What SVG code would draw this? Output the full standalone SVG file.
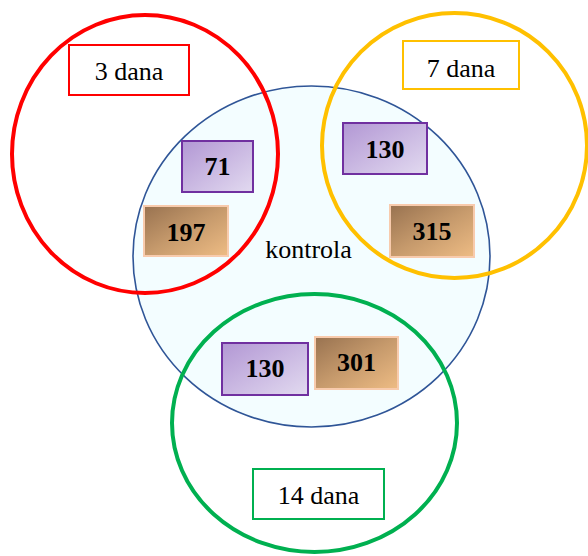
<svg xmlns="http://www.w3.org/2000/svg" width="588" height="556" viewBox="0 0 588 556">
<defs>
<linearGradient id="gp" x1="0" y1="0" x2="1" y2="1">
<stop offset="0" stop-color="#B297D4"/>
<stop offset="1" stop-color="#E2DAF0"/>
</linearGradient>
<linearGradient id="gb" x1="0" y1="0" x2="1" y2="1">
<stop offset="0" stop-color="#987250"/>
<stop offset="0.5" stop-color="#C69A6C"/>
<stop offset="1" stop-color="#EEBC84"/>
</linearGradient>
<style>
.ring{fill:none;stroke-width:4}
.lab{fill:#fff;stroke-width:2}
.lt{font-family:"Liberation Serif","Times New Roman",serif;font-size:26px;fill:#000;text-anchor:middle}
.num{font-family:"Liberation Serif","Times New Roman",serif;font-size:26px;font-weight:bold;fill:#000;text-anchor:middle}
.pb{fill:url(#gp);stroke:#7030A0;stroke-width:2}
.bb{fill:url(#gb);stroke:#F8CBAD;stroke-width:2}
</style>
</defs>
<g id="kontrola">
<ellipse cx="311.5" cy="256.5" rx="178.5" ry="170.5" fill="#F3FDFF" stroke="#2F5597" stroke-width="1.6"/>
<text class="lt" x="308.5" y="258">kontrola</text>
</g>
<g id="dan3">
<ellipse class="ring" cx="145" cy="154" rx="133" ry="139" stroke="#FF0000"/>
<rect class="lab" x="69" y="45" width="120" height="50" stroke="#FF0000"/>
<text class="lt" x="129" y="80">3 dana</text>
</g>
<g id="dan7">
<ellipse class="ring" cx="454.5" cy="145.5" rx="132.5" ry="132.5" stroke="#FFC000"/>
<rect class="lab" x="403" y="41" width="116" height="48" stroke="#FFC000"/>
<text class="lt" x="461" y="77">7 dana</text>
</g>
<g id="dan14">
<ellipse class="ring" cx="314.5" cy="423" rx="142.5" ry="129" stroke="#00B050"/>
<rect class="lab" x="253" y="469" width="131" height="50" stroke="#00B050"/>
<text class="lt" x="318.5" y="504">14 dana</text>
</g>
<g id="n71">
<rect class="pb" x="182" y="141" width="71" height="51"/>
<text class="num" x="217.5" y="175">71</text>
</g>
<g id="n197">
<rect class="bb" x="144" y="206" width="84" height="50"/>
<text class="num" x="186" y="241">197</text>
</g>
<g id="n130a">
<rect class="pb" x="343" y="123" width="84" height="51"/>
<text class="num" x="385" y="158">130</text>
</g>
<g id="n315">
<rect class="bb" x="390" y="205" width="84" height="52"/>
<text class="num" x="432" y="240">315</text>
</g>
<g id="n130b">
<rect class="pb" x="222" y="343" width="86" height="52"/>
<text class="num" x="265" y="377">130</text>
</g>
<g id="n301">
<rect class="bb" x="315" y="337" width="83" height="52"/>
<text class="num" x="356.5" y="371">301</text>
</g>
<g id="connectors"/>
</svg>
